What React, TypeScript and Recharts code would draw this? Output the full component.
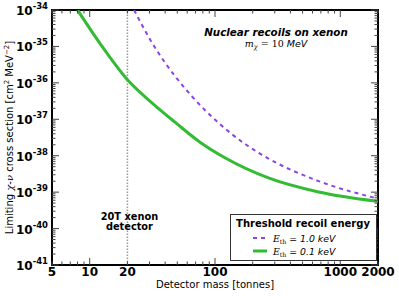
import React from 'react';
import { LineChart, Line, XAxis, YAxis, ReferenceLine, ReferenceArea, Legend, Label } from 'recharts';

const FONT = '"DejaVu Sans", Verdana, sans-serif';
const SERIF = '"DejaVu Serif", serif';

const greenMass = [8, 12.1, 20, 30.4, 48.2, 76.4, 121, 267, 671, 2000];
const greenSigma = [1e-34, 1.2e-35, 1.22e-36, 3.11e-37, 8.2e-38, 2.31e-38, 8.65e-39, 2.46e-39, 1.01e-39, 5.58e-40];
const purpleMass = [22.6, 30.4, 39.6, 48.2, 65.6, 103.9, 175, 267, 671, 2000];
const purpleSigma = [1e-34, 1.53e-35, 3.74e-36, 1.5e-36, 4.22e-37, 8.65e-38, 2.06e-38, 8.37e-39, 2.01e-39, 6.62e-40];

const xLabelTicks = [5, 10, 20, 100, 1000, 2000];
const xMajorTicks = [10, 100, 1000];
const xMinorTicks = [5, 6, 7, 8, 9, 20, 30, 40, 50, 60, 70, 80, 90, 200, 300, 400, 500, 600, 700, 800, 900, 2000];
const xAllTicks = [...xMinorTicks, ...xMajorTicks].sort((a, b) => a - b);
const yExponents = [-34, -35, -36, -37, -38, -39, -40, -41];
const yMajorTicks = [1e-34, 1e-35, 1e-36, 1e-37, 1e-38, 1e-39, 1e-40, 1e-41];
const yMinorMult = [2, 3, 4, 5, 6, 7, 8, 9];
const yMinorTicks = yMajorTicks.slice(1).flatMap((b) => yMinorMult.map((m) => m * b));
const yAllTicks = [...yMajorTicks, ...yMinorTicks];

const greenData = greenMass.map((x, i) => ({ x, y: greenSigma[i] }));
const purpleData = purpleMass.map((x, i) => ({ x, y: purpleSigma[i] }));

const GREEN = '#33bb33';
const PURPLE = '#8a45e0';
const XD: [number, number] = [5, 2000];
const YD: [number, number] = [1e-41, 1e-34];

const CW = 399;
const CH = 296;
const M = { top: 10, right: 21, bottom: 0, left: 0 };
const YW = 52;
const XH = 31;
const PLOT_W = CW - M.left - M.right - YW;
const PLOT_H = CH - M.top - M.bottom - XH;
const TICK_OFF = 8; // default tickSize + tickMargin
const MAJ = 7;
const MIN = 3.5;
const TICK_COLOR = '#444';

const YTick = (props: any) => {
  const { x, y, payload } = props;
  const v = payload.value;
  const idx = yMajorTicks.findIndex((t) => Math.abs(Math.log10(t) - Math.log10(v)) < 1e-6);
  const major = idx >= 0;
  const ax = x + TICK_OFF;
  const len = major ? MAJ : MIN;
  return (
    <g>
      <line x1={ax} x2={ax + len} y1={y} y2={y} stroke={TICK_COLOR} strokeWidth={1} />
      <line x1={ax + PLOT_W} x2={ax + PLOT_W - len} y1={y} y2={y} stroke={TICK_COLOR} strokeWidth={1} />
      {major && (
        <text x={x + 4} y={y + 5} textAnchor="end" fontFamily={FONT} fontWeight="bold" fontSize={12} fill="#000">
          <tspan>10</tspan>
          <tspan dy={-6} fontSize={8.5}>{String(yExponents[idx])}</tspan>
        </text>
      )}
    </g>
  );
};

const XTick = (props: any) => {
  const { x, y, payload } = props;
  const v = payload.value;
  const major = xMajorTicks.includes(v);
  const len = major ? MAJ : MIN;
  const ay = y - TICK_OFF;
  return (
    <g>
      <line x1={x} x2={x} y1={ay} y2={ay - len} stroke={TICK_COLOR} strokeWidth={1} />
      <line x1={x} x2={x} y1={ay - PLOT_H} y2={ay - PLOT_H + len} stroke={TICK_COLOR} strokeWidth={1} />
      {xLabelTicks.includes(v) && (
        <text x={x} y={y + 3} textAnchor="middle" fontFamily={FONT} fontWeight="bold" fontSize={12} fill="#000">
          {String(v)}
        </text>
      )}
    </g>
  );
};

const YTitle = (props: any) => {
  const vb = props.viewBox || {};
  const cx = 13;
  const cy = vb.y + vb.height / 2;
  return (
    <text x={cx} y={cy} transform={`rotate(-90 ${cx} ${cy})`} textAnchor="middle" fontFamily={FONT} fontSize={10} fill="#000">
      <tspan>Limiting </tspan>
      <tspan fontFamily={SERIF} fontStyle="italic">χ</tspan>
      <tspan>-</tspan>
      <tspan fontFamily={SERIF} fontStyle="italic">ν</tspan>
      <tspan> cross section [cm</tspan>
      <tspan dy={-4} fontSize={7}>2</tspan>
      <tspan dy={4}> MeV</tspan>
      <tspan dy={-4} fontSize={7}>−2</tspan>
      <tspan dy={4}>]</tspan>
    </text>
  );
};

const XTitle = (props: any) => {
  const vb = props.viewBox || {};
  const cx = vb.x + vb.width / 2;
  return (
    <text x={cx} y={288} textAnchor="middle" fontFamily={FONT} fontSize={10} fill="#000">
      Detector mass [tonnes]
    </text>
  );
};

const Annotations = (props: any) => {
  const vb = props.viewBox || {};
  const px = vb.x;
  const py = vb.y;
  return (
    <g>
      <text x={px + 224} y={py + 26} textAnchor="middle" fontFamily={FONT} fontWeight="bold" fontStyle="italic" fontSize={10.3} fill="#000">
        Nuclear recoils on xenon
      </text>
      <text x={px + 224} y={py + 37} textAnchor="middle" fontFamily={FONT} fontSize={9.5} fill="#000">
        <tspan fontFamily={SERIF} fontStyle="italic">m</tspan>
        <tspan dy={2} fontSize={6.5} fontFamily={SERIF} fontStyle="italic">χ</tspan>
        <tspan dy={-2} fontFamily={SERIF}> = 10 </tspan>
        <tspan fontStyle="italic">MeV</tspan>
      </text>
    </g>
  );
};

const DetectorLabel = (props: any) => {
  const vb = props.viewBox || {};
  const cx = vb.x + 2;
  const top = vb.y;
  return (
    <g>
      <text x={cx} y={top + 210} textAnchor="middle" fontFamily={FONT} fontWeight="bold" fontSize={9.8} fill="#000">
        20T xenon
      </text>
      <text x={cx} y={top + 219.5} textAnchor="middle" fontFamily={FONT} fontWeight="bold" fontSize={9.8} fill="#000">
        detector
      </text>
    </g>
  );
};

const LegendBox = () => (
  <div style={{ width: 147, height: 47, boxSizing: 'border-box', border: '1.5px solid #333', background: '#fff' }}>
    <svg width={144} height={44} style={{ display: 'block' }}>
      <text x={72} y={12} textAnchor="middle" fontFamily={FONT} fontWeight="bold" fontSize={10} fill="#000">
        Threshold recoil energy
      </text>
      <line x1={22} x2={35} y1={23} y2={23} stroke={PURPLE} strokeWidth={2} strokeDasharray="4 4" />
      <text x={42} y={26.5} fontFamily={FONT} fontStyle="italic" fontSize={9.3} fill="#000">
        <tspan fontFamily={SERIF}>E</tspan>
        <tspan dy={2} fontSize={6.3} fontFamily={SERIF} fontStyle="normal">th</tspan>
        <tspan dy={-2}> = 1.0 keV</tspan>
      </text>
      <line x1={22} x2={36} y1={36} y2={36} stroke={GREEN} strokeWidth={3} />
      <text x={42} y={39.5} fontFamily={FONT} fontStyle="italic" fontSize={9.3} fill="#000">
        <tspan fontFamily={SERIF}>E</tspan>
        <tspan dy={2} fontSize={6.3} fontFamily={SERIF} fontStyle="normal">th</tspan>
        <tspan dy={-2}> = 0.1 keV</tspan>
      </text>
    </svg>
  </div>
);

export default function App() {
  return (
    <div style={{ position: 'absolute', left: 0, top: 0, background: '#fff' }}>
      <LineChart width={CW} height={CH} margin={M}>
        <XAxis xAxisId="x" dataKey="x" type="number" scale="log" domain={XD} allowDataOverflow ticks={xAllTicks}
          tick={<XTick />} tickLine={false} axisLine={{ stroke: '#000', strokeWidth: 2 }} height={XH} interval={0}>
          <Label content={<XTitle />} />
        </XAxis>
        <YAxis yAxisId="y" dataKey="y" type="number" scale="log" domain={YD} allowDataOverflow ticks={yAllTicks}
          tick={<YTick />} tickLine={false} axisLine={{ stroke: '#000', strokeWidth: 2 }} width={YW} interval={0}>
          <Label content={<YTitle />} />
        </YAxis>

        <ReferenceArea xAxisId="x" yAxisId="y" x1={5} x2={2000} y1={1e-41} y2={1e-34} fill="none" fillOpacity={0}
          stroke="#000" strokeWidth={2} ifOverflow="visible" label={<Annotations />} />
        <ReferenceLine xAxisId="x" yAxisId="y" x={20} stroke="#999" strokeWidth={1.5} strokeDasharray="1.5 1.5"
          label={<DetectorLabel />} />

        <Line xAxisId="x" yAxisId="y" data={purpleData} dataKey="y" type="monotone" stroke={PURPLE} strokeWidth={2}
          strokeDasharray="4 4" dot={false} isAnimationActive={false} />
        <Line xAxisId="x" yAxisId="y" data={greenData} dataKey="y" type="monotone" stroke={GREEN} strokeWidth={3}
          dot={false} isAnimationActive={false} />

        <Legend layout="vertical" align="center" verticalAlign="middle" content={<LegendBox />}
          wrapperStyle={{ left: 230, top: 214, width: 147, height: 47 }} />
      </LineChart>
    </div>
  );
}
